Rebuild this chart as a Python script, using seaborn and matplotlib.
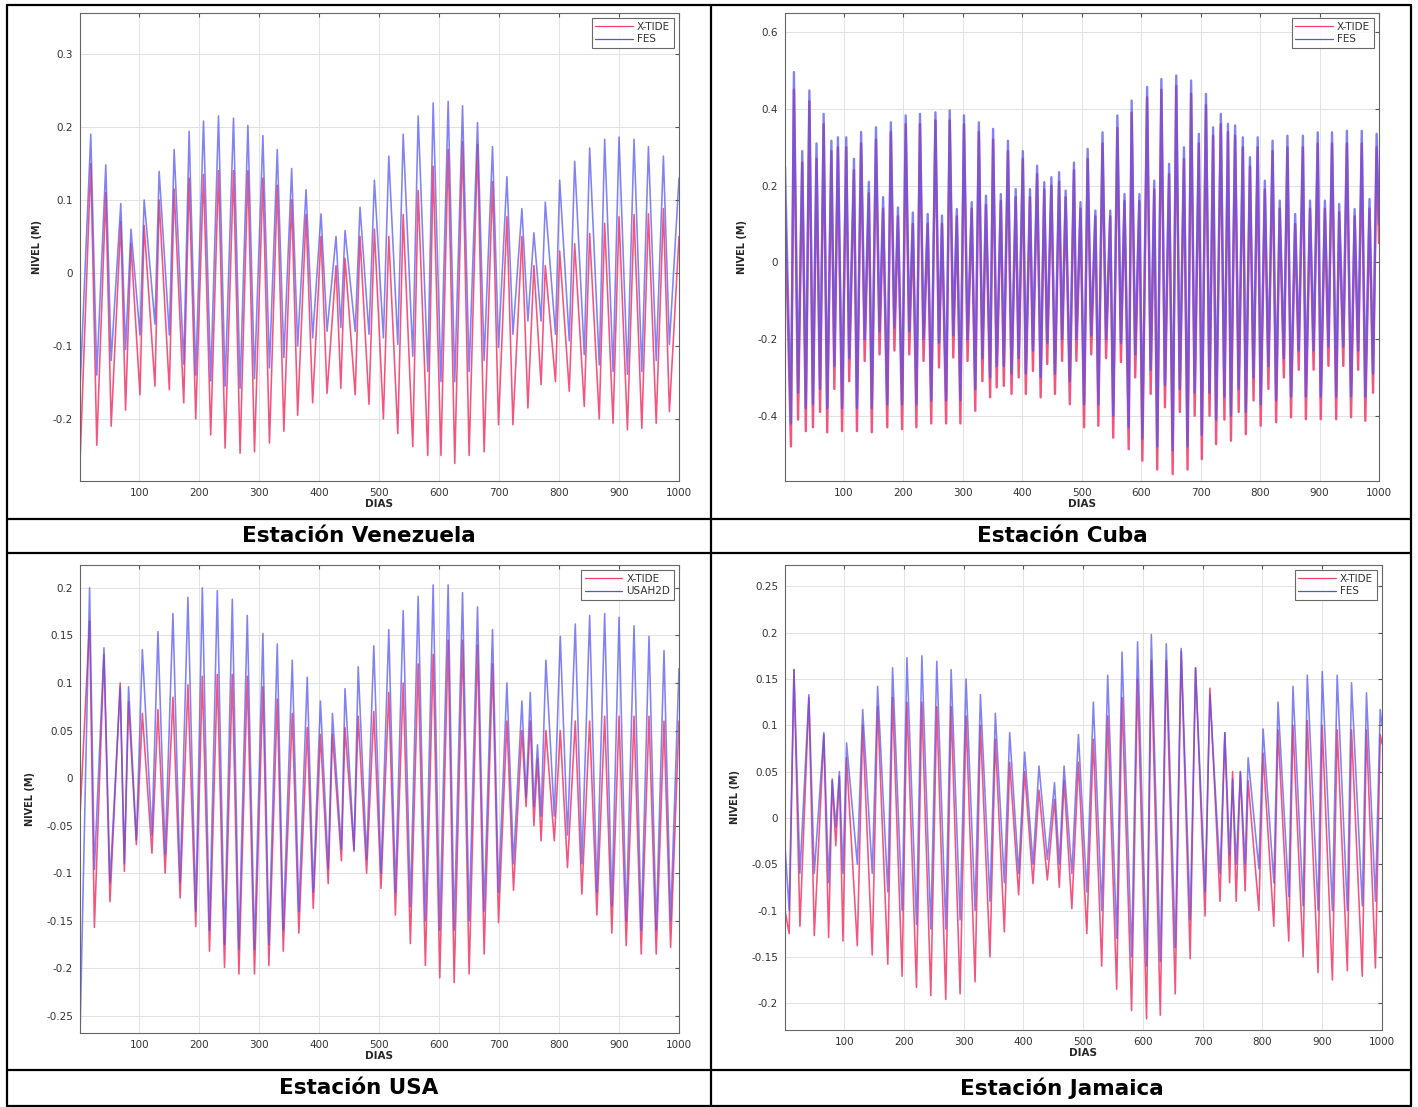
import numpy as np
import pandas as pd
import matplotlib
matplotlib.use("Agg")
import matplotlib.pyplot as plt
import seaborn as sns
from matplotlib.lines import Line2D
from matplotlib.ticker import FuncFormatter, FixedLocator

# ---------------- DATA (extremes) ----------------
ven_days = [1, 19, 29, 44, 53, 69, 77, 86, 101, 108,
            126, 133, 150, 158, 174, 183, 194, 207, 219, 232,
            243, 257, 268, 281, 292, 306, 317, 330, 341, 354,
            364, 378, 389, 403, 413, 428, 436, 443, 460, 468,
            483, 492, 507, 516, 531, 540, 556, 565, 581, 590,
            603, 615, 626, 639, 650, 664, 675, 689, 699, 713,
            723, 738, 748, 758, 770, 777, 794, 801, 817, 826,
            842, 851, 867, 876, 890, 900, 914, 925, 938, 949,
            962, 974, 984, 1000]
ven_fes = [-0.16, 0.19, -0.14, 0.148, -0.12, 0.095, -0.105, 0.06, -0.085, 0.10,
           -0.07, 0.139, -0.085, 0.169, -0.125, 0.194, -0.14, 0.208, -0.148, 0.215,
           -0.155, 0.212, -0.158, 0.202, -0.145, 0.188, -0.13, 0.169, -0.116, 0.143,
           -0.10, 0.114, -0.089, 0.081, -0.08, 0.05, -0.075, 0.058, -0.08, 0.09,
           -0.084, 0.127, -0.089, 0.16, -0.098, 0.19, -0.114, 0.215, -0.135, 0.233,
           -0.149, 0.235, -0.149, 0.229, -0.135, 0.206, -0.12, 0.173, -0.102, 0.132,
           -0.084, 0.088, -0.066, 0.055, -0.066, 0.097, -0.084, 0.127, -0.093, 0.153,
           -0.112, 0.171, -0.126, 0.183, -0.135, 0.186, -0.139, 0.183, -0.135, 0.173,
           -0.12, 0.16, -0.098, 0.13]
ven_xtide = [-0.26, 0.15, -0.236, 0.11, -0.21, 0.07, -0.188, 0.04, -0.167, 0.065,
             -0.155, 0.10, -0.16, 0.115, -0.178, 0.13, -0.20, 0.135, -0.222, 0.14,
             -0.24, 0.14, -0.247, 0.14, -0.245, 0.13, -0.233, 0.12, -0.217, 0.10,
             -0.195, 0.08, -0.178, 0.05, -0.165, 0.01, -0.158, 0.02, -0.167, 0.05,
             -0.18, 0.06, -0.20, 0.05, -0.22, 0.08, -0.238, 0.113, -0.25, 0.146,
             -0.25, 0.169, -0.261, 0.18, -0.25, 0.176, -0.245, 0.125, -0.208, 0.077,
             -0.208, 0.05, -0.185, 0.01, -0.153, 0.01, -0.149, 0.03, -0.162, 0.04,
             -0.183, 0.054, -0.20, 0.068, -0.206, 0.077, -0.215, 0.08, -0.213, 0.081,
             -0.206, 0.088, -0.19, 0.05]

cub_days = [1, 11, 16, 23, 30, 36, 42, 48, 54, 60,
            66, 72, 79, 84, 90, 97, 104, 109, 117, 122,
            129, 135, 142, 147, 154, 160, 166, 173, 179, 185,
            191, 198, 204, 210, 216, 222, 228, 234, 241, 247,
            254, 260, 265, 272, 278, 284, 290, 296, 302, 308,
            315, 321, 327, 333, 339, 346, 351, 357, 364, 369,
            376, 382, 389, 394, 401, 406, 413, 418, 425, 431,
            437, 442, 449, 455, 462, 467, 473, 480, 487, 491,
            498, 504, 510, 516, 523, 528, 535, 541, 548, 553,
            560, 566, 572, 579, 584, 590, 597, 602, 610, 616,
            622, 627, 634, 640, 647, 653, 659, 665, 672, 678,
            684, 690, 697, 702, 709, 715, 721, 726, 734, 740,
            746, 751, 758, 764, 771, 776, 783, 789, 796, 801,
            808, 814, 821, 827, 833, 840, 846, 852, 859, 865,
            872, 877, 884, 890, 897, 902, 909, 915, 921, 928,
            933, 940, 946, 953, 959, 965, 971, 977, 984, 990,
            996, 1000]
cub_fes = [0.25, -0.42, 0.496, -0.34, 0.29, -0.38, 0.448, -0.37, 0.31, -0.33,
           0.387, -0.38, 0.317, -0.27, 0.326, -0.38, 0.326, -0.25, 0.27, -0.38,
           0.34, -0.20, 0.21, -0.38, 0.352, -0.18, 0.17, -0.37, 0.365, -0.17,
           0.143, -0.37, 0.383, -0.18, 0.13, -0.37, 0.387, -0.20, 0.126, -0.36,
           0.391, -0.21, 0.122, -0.36, 0.396, -0.19, 0.139, -0.36, 0.383, -0.20,
           0.157, -0.33, 0.365, -0.25, 0.174, -0.30, 0.348, -0.27, 0.178, -0.27,
           0.317, -0.29, 0.191, -0.25, 0.29, -0.29, 0.191, -0.23, 0.252, -0.30,
           0.209, -0.21, 0.222, -0.29, 0.235, -0.20, 0.187, -0.31, 0.26, -0.20,
           0.157, -0.37, 0.296, -0.19, 0.135, -0.37, 0.339, -0.20, 0.135, -0.40,
           0.383, -0.21, 0.178, -0.43, 0.422, -0.24, 0.178, -0.46, 0.457, -0.28,
           0.213, -0.48, 0.478, -0.32, 0.257, -0.49, 0.487, -0.33, 0.30, -0.48,
           0.474, -0.34, 0.335, -0.45, 0.439, -0.34, 0.352, -0.41, 0.387, -0.35,
           0.361, -0.40, 0.357, -0.33, 0.326, -0.39, 0.274, -0.30, 0.326, -0.37,
           0.213, -0.27, 0.317, -0.36, 0.161, -0.25, 0.33, -0.35, 0.126, -0.23,
           0.33, -0.35, 0.161, -0.23, 0.339, -0.35, 0.161, -0.22, 0.339, -0.35,
           0.152, -0.22, 0.343, -0.35, 0.139, -0.23, 0.343, -0.35, 0.165, -0.29,
           0.335, 0.10]
cub_xtide = [0.15, -0.48, 0.45, -0.41, 0.26, -0.44, 0.42, -0.43, 0.27, -0.39,
             0.36, -0.443, 0.29, -0.33, 0.30, -0.44, 0.30, -0.31, 0.24, -0.44,
             0.31, -0.257, 0.18, -0.443, 0.32, -0.24, 0.14, -0.43, 0.34, -0.23,
             0.12, -0.435, 0.36, -0.24, 0.10, -0.43, 0.36, -0.257, 0.10, -0.42,
             0.37, -0.274, 0.10, -0.42, 0.37, -0.248, 0.12, -0.42, 0.36, -0.257,
             0.14, -0.387, 0.34, -0.31, 0.15, -0.352, 0.32, -0.326, 0.16, -0.322,
             0.29, -0.343, 0.17, -0.30, 0.27, -0.343, 0.17, -0.283, 0.23, -0.352,
             0.19, -0.265, 0.20, -0.343, 0.21, -0.257, 0.17, -0.37, 0.24, -0.257,
             0.14, -0.43, 0.27, -0.24, 0.12, -0.426, 0.31, -0.25, 0.12, -0.457,
             0.35, -0.26, 0.16, -0.487, 0.39, -0.30, 0.16, -0.517, 0.43, -0.343,
             0.19, -0.54, 0.45, -0.378, 0.23, -0.552, 0.46, -0.39, 0.27, -0.54,
             0.44, -0.40, 0.31, -0.513, 0.41, -0.40, 0.33, -0.474, 0.36, -0.41,
             0.34, -0.465, 0.33, -0.39, 0.30, -0.448, 0.25, -0.36, 0.30, -0.426,
             0.19, -0.33, 0.29, -0.417, 0.14, -0.30, 0.30, -0.404, 0.10, -0.28,
             0.30, -0.409, 0.14, -0.28, 0.31, -0.409, 0.14, -0.27, 0.31, -0.409,
             0.13, -0.27, 0.31, -0.404, 0.12, -0.28, 0.31, -0.413, 0.14, -0.34,
             0.30, 0.05]

usa_days = [1, 17, 25, 41, 51, 68, 75, 82, 95, 105,
            121, 131, 143, 156, 168, 181, 194, 205, 217, 230,
            242, 255, 266, 280, 292, 306, 316, 330, 340, 355,
            366, 380, 390, 402, 415, 422, 437, 443, 458, 465,
            479, 491, 503, 516, 527, 540, 552, 565, 577, 590,
            601, 615, 625, 639, 650, 664, 675, 689, 699, 713,
            724, 738, 745, 752, 758, 764, 770, 778, 792, 802,
            814, 827, 838, 851, 863, 876, 888, 900, 912, 925,
            937, 950, 962, 975, 986, 1000]
usa_usah2d = [-0.27, 0.20, -0.096, 0.137, -0.11, 0.096, -0.09, 0.096, -0.065, 0.135,
              -0.06, 0.154, -0.08, 0.173, -0.11, 0.19, -0.14, 0.20, -0.16, 0.197,
              -0.175, 0.188, -0.18, 0.171, -0.18, 0.152, -0.175, 0.141, -0.16, 0.124,
              -0.14, 0.106, -0.12, 0.081, -0.095, 0.068, -0.075, 0.094, -0.075, 0.117,
              -0.085, 0.139, -0.10, 0.156, -0.12, 0.176, -0.135, 0.191, -0.15, 0.203,
              -0.16, 0.203, -0.16, 0.195, -0.15, 0.18, -0.14, 0.156, -0.12, 0.10,
              -0.09, 0.081, -0.02, 0.09, -0.03, 0.035, -0.04, 0.124, -0.04, 0.149,
              -0.06, 0.162, -0.09, 0.171, -0.12, 0.173, -0.135, 0.169, -0.15, 0.16,
              -0.16, 0.149, -0.16, 0.134, -0.15, 0.115]
usa_xtide = [-0.04, 0.165, -0.157, 0.13, -0.13, 0.10, -0.098, 0.08, -0.07, 0.068,
             -0.079, 0.072, -0.10, 0.085, -0.126, 0.098, -0.156, 0.107, -0.182, 0.109,
             -0.199, 0.109, -0.206, 0.107, -0.206, 0.096, -0.197, 0.083, -0.182, 0.068,
             -0.163, 0.053, -0.137, 0.046, -0.111, 0.046, -0.087, 0.053, -0.077, 0.065,
             -0.10, 0.07, -0.116, 0.09, -0.144, 0.10, -0.174, 0.12, -0.197, 0.13,
             -0.21, 0.145, -0.215, 0.145, -0.206, 0.14, -0.185, 0.12, -0.152, 0.06,
             -0.118, 0.05, -0.03, 0.06, -0.05, 0.02, -0.066, 0.05, -0.066, 0.05,
             -0.094, 0.06, -0.122, 0.06, -0.144, 0.065, -0.163, 0.065, -0.176, 0.065,
             -0.185, 0.065, -0.185, 0.06, -0.178, 0.06]

jam_days = [1, 8, 16, 26, 41, 50, 66, 74, 80, 86,
            92, 98, 104, 122, 131, 147, 156, 173, 181, 197,
            205, 221, 230, 245, 255, 270, 279, 294, 304, 319,
            328, 344, 353, 368, 377, 392, 402, 416, 426, 440,
            452, 460, 468, 481, 492, 506, 517, 531, 541, 556,
            565, 581, 591, 606, 614, 629, 639, 654, 664, 679,
            688, 704, 712, 729, 737, 745, 750, 756, 763, 771,
            776, 794, 801, 819, 826, 844, 851, 868, 875, 893,
            900, 917, 925, 942, 949, 967, 974, 989, 997, 1000]
jam_fes = [-0.03, -0.10, 0.16, -0.06, 0.133, -0.06, 0.092, -0.07, 0.042, -0.01,
           0.05, -0.06, 0.081, -0.05, 0.117, -0.06, 0.142, -0.08, 0.162, -0.10,
           0.173, -0.115, 0.175, -0.12, 0.169, -0.12, 0.16, -0.11, 0.15, -0.10,
           0.133, -0.09, 0.113, -0.07, 0.092, -0.06, 0.071, -0.05, 0.056, -0.045,
           0.038, -0.05, 0.056, -0.06, 0.09, -0.08, 0.125, -0.10, 0.154, -0.13,
           0.179, -0.15, 0.19, -0.16, 0.198, -0.155, 0.188, -0.14, 0.183, -0.11,
           0.162, -0.08, 0.133, -0.06, 0.092, -0.04, 0.042, -0.05, 0.05, -0.05,
           0.065, -0.055, 0.096, -0.07, 0.125, -0.085, 0.142, -0.095, 0.154, -0.10,
           0.158, -0.10, 0.154, -0.10, 0.146, -0.095, 0.135, -0.09, 0.117, 0.10]
jam_xtide = [-0.10, -0.125, 0.16, -0.117, 0.13, -0.127, 0.09, -0.129, 0.04, -0.03,
             0.045, -0.133, 0.065, -0.138, 0.10, -0.148, 0.12, -0.158, 0.13, -0.171,
             0.125, -0.183, 0.125, -0.192, 0.12, -0.196, 0.12, -0.19, 0.11, -0.177,
             0.10, -0.15, 0.085, -0.123, 0.06, -0.083, 0.05, -0.071, 0.03, -0.067,
             0.02, -0.075, 0.04, -0.098, 0.06, -0.125, 0.085, -0.16, 0.11, -0.185,
             0.13, -0.208, 0.15, -0.217, 0.17, -0.213, 0.17, -0.19, 0.18, -0.152,
             0.162, -0.106, 0.14, -0.09, 0.092, -0.07, 0.05, -0.09, 0.05, -0.079,
             0.04, -0.10, 0.07, -0.117, 0.095, -0.133, 0.10, -0.15, 0.105, -0.167,
             0.10, -0.175, 0.095, -0.165, 0.095, -0.171, 0.095, -0.162, 0.09, 0.08]

captions = ["Estación Venezuela", "Estación Cuba", "Estación USA", "Estación Jamaica"]
model_names = ["FES", "FES", "USAH2D", "FES"]
xticks = [100, 200, 300, 400, 500, 600, 700, 800, 900, 1000]
ven_yticks = [-0.2, -0.1, 0, 0.1, 0.2, 0.3]
cub_yticks = [-0.4, -0.2, 0, 0.2, 0.4, 0.6]
usa_yticks = [-0.25, -0.2, -0.15, -0.1, -0.05, 0, 0.05, 0.1, 0.15, 0.2]
jam_yticks = [-0.2, -0.15, -0.1, -0.05, 0, 0.05, 0.1, 0.15, 0.2, 0.25]

# ---------------- STYLE / LAYOUT ----------------
sns.set_style("white")
plt.rcParams['font.family'] = ['DejaVu Sans']

W, H = 1418, 1107
fig = plt.figure(figsize=(W / 100, H / 100), dpi=100)
fig.patch.set_facecolor("white")

RED = "#f2426f"
BLUE = "#5252f0"


def rect(l, r, t, b):
    return [l / W, 1 - b / H, (r - l) / W, (b - t) / H]


def fmt(v, _):
    return "%g" % round(v, 3)


panels = [
    (rect(80, 679, 13, 481), ven_days, ven_xtide, ven_fes, (-0.285, 0.356), ven_yticks, 1.15),
    (rect(785, 1379, 13, 481), cub_days, cub_xtide, cub_fes, (-0.57, 0.65), cub_yticks, 1.7),
    (rect(80, 679, 565, 1033), usa_days, usa_xtide, usa_usah2d, (-0.268, 0.224), usa_yticks, 1.15),
    (rect(785, 1382, 565, 1030), jam_days, jam_xtide, jam_fes, (-0.229, 0.273), jam_yticks, 1.15),
]

for i, (r, days, xt, mod, ylim, yt, lw) in enumerate(panels):
    ax = fig.add_axes(r)
    name = model_names[i]
    df = pd.DataFrame({"DIAS": days, "X-TIDE": xt, name: mod})
    long = df.melt(id_vars="DIAS", var_name="serie", value_name="NIVEL")
    sns.lineplot(data=long[long.serie == "X-TIDE"], x="DIAS", y="NIVEL",
                 color=RED, lw=lw, alpha=0.9, estimator=None, sort=False,
                 ax=ax, legend=False)
    sns.lineplot(data=long[long.serie == name], x="DIAS", y="NIVEL",
                 color=BLUE, lw=lw, alpha=0.72, estimator=None, sort=False,
                 ax=ax, legend=False)
    ax.set_xlim(1, 1000)
    ax.set_ylim(*ylim)
    ax.xaxis.set_major_locator(FixedLocator(xticks))
    ax.yaxis.set_major_locator(FixedLocator(yt))
    ax.yaxis.set_major_formatter(FuncFormatter(fmt))
    ax.grid(True, color="#e2e2e2", lw=0.7)
    ax.tick_params(direction="in", top=True, right=True, length=3,
                   labelsize=7.5, colors="#555555", labelcolor="#333333", pad=5)
    for s in ax.spines.values():
        s.set_color("#666666")
        s.set_linewidth(0.8)
    ax.set_xlabel("DIAS", fontsize=7.5, fontweight="bold", labelpad=1)
    ax.set_ylabel("NIVEL (M)", fontsize=7, fontweight="bold", labelpad=8)
    handles = [Line2D([], [], color=RED, lw=0.9), Line2D([], [], color=BLUE, lw=0.9)]
    leg = ax.legend(handles, ["X-TIDE", name], loc="upper right", fontsize=7.5,
                    frameon=True, fancybox=False, edgecolor="#444444",
                    handlelength=3.6, handletextpad=0.4, borderpad=0.35,
                    labelspacing=0.25, borderaxespad=0.5)
    leg.get_frame().set_linewidth(0.8)
    for t in leg.get_texts():
        t.set_color("#333333")

# ---------------- TABLE FRAME AND CAPTIONS ----------------
def hline(y, x0=7, x1=1411):
    fig.add_artist(Line2D([x0 / W, x1 / W], [1 - y / H, 1 - y / H],
                          transform=fig.transFigure, color="black", lw=1.6))


def vline(x, y0=5, y1=1106):
    fig.add_artist(Line2D([x / W, x / W], [1 - y0 / H, 1 - y1 / H],
                          transform=fig.transFigure, color="black", lw=1.6))


for y in (5, 519, 553, 1070, 1106):
    hline(y)
for x in (7, 711, 1411):
    vline(x)

cap_pos = [(359, 536), (1062, 536), (359, 1088), (1062, 1088)]
for txt, (cx, cy) in zip(captions, cap_pos):
    fig.text(cx / W, 1 - cy / H, txt, ha="center", va="center",
             fontsize=15.5, fontweight="bold", color="black")

fig.savefig("out.png", dpi=100, facecolor="white")
